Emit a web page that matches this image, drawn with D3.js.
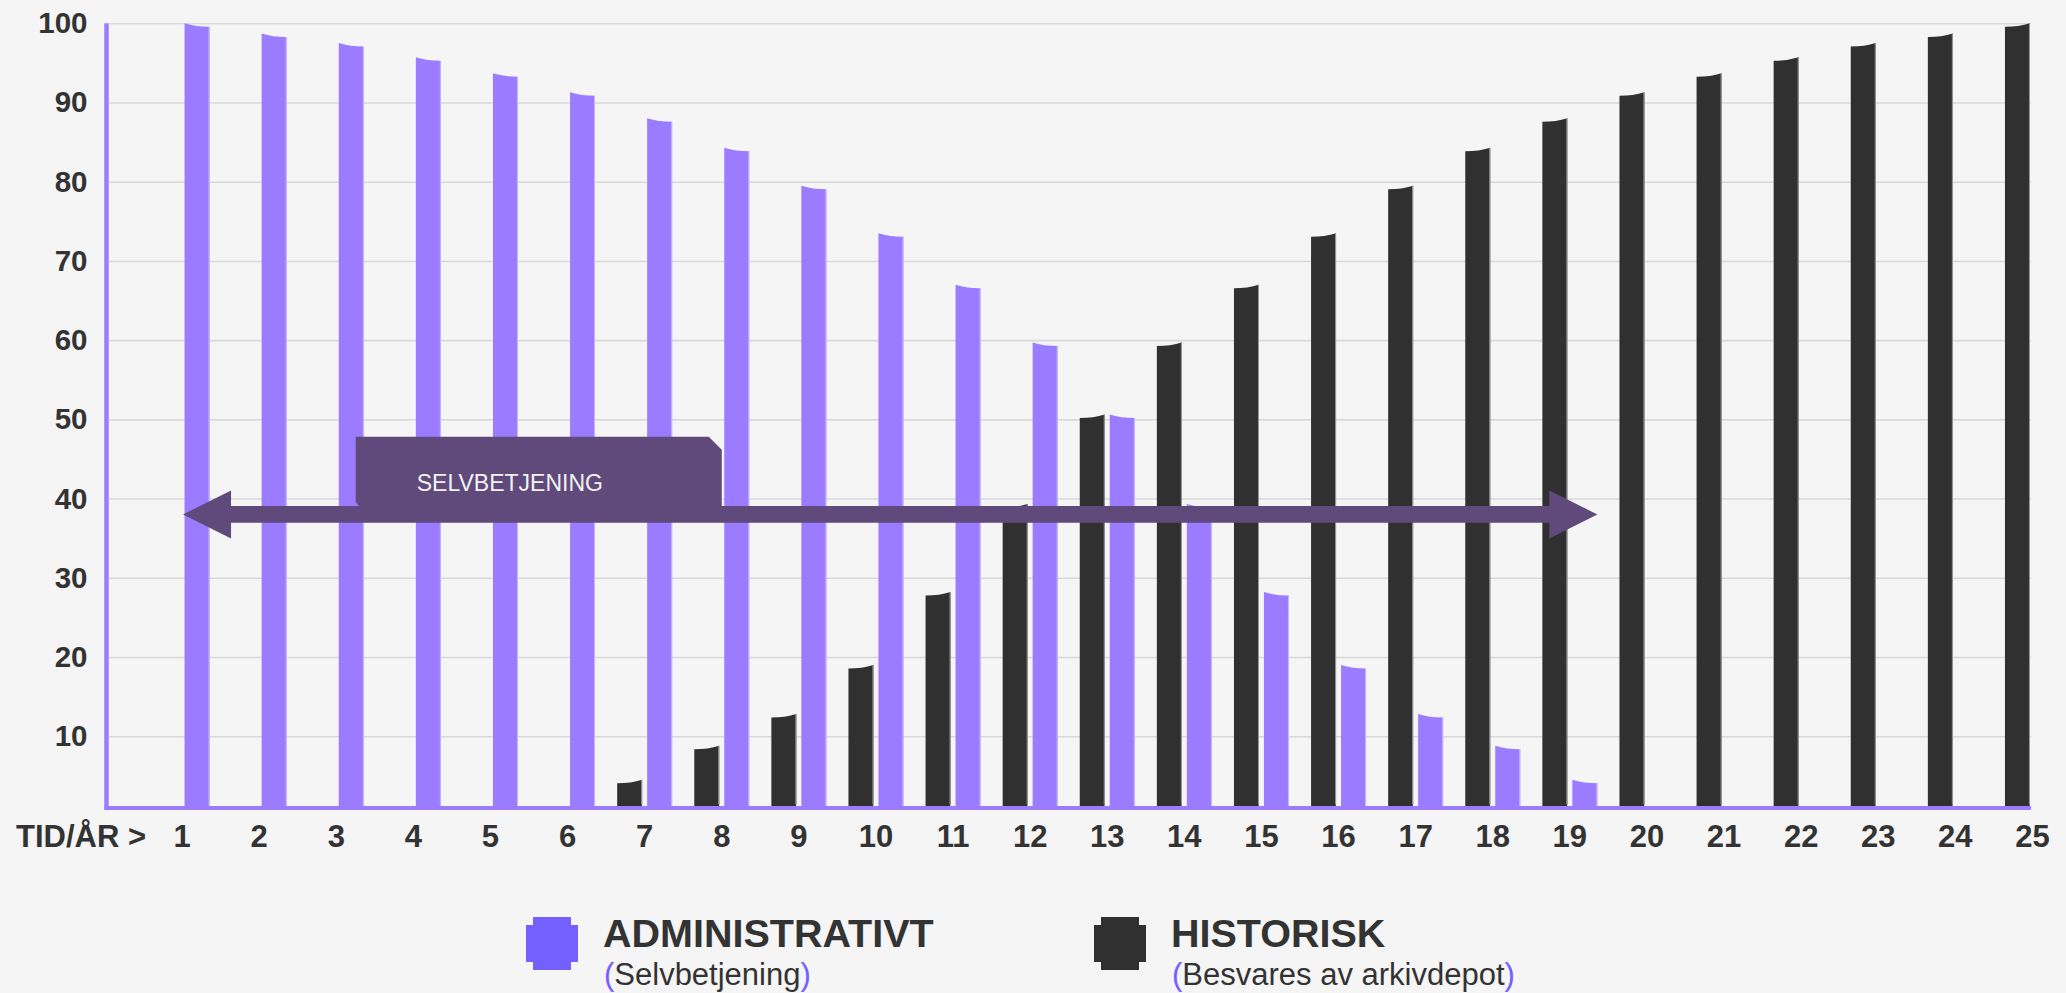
<!DOCTYPE html>
<html>
<head>
<meta charset="utf-8">
<script src="https://cdn.jsdelivr.net/npm/d3@7/dist/d3.min.js"></script>
<style>
  html, body { margin: 0; padding: 0; background: #f5f5f5; }
  svg { display: block; font-family: "Liberation Sans", Arial, sans-serif; }
</style>
</head>
<body>
<div id="chart"></div>
<script>
// --- Data ---
const years = ["1","2","3","4","5","6","7","8","9","10","11","12","13",
               "14","15","16","17","18","19","20","21","22","23","24","25"];
const adminValues = [100, 98.7, 97.5, 95.7, 93.7, 91.3, 88, 84.3, 79.5, 73.5, 67, 59.7, 50.6,
                     39.3, 28.2, 19, 12.8, 8.8, 4.5, 0, 0, 0, 0, 0, 0];
const histValues  = [0, 0, 0, 0, 0, 0, 4.5, 8.8, 12.8, 19, 28.2, 39.3, 50.6,
                     59.7, 67, 73.5, 79.5, 84.3, 88, 91.3, 93.7, 95.7, 97.5, 98.7, 100];
const yTicks = [10, 20, 30, 40, 50, 60, 70, 80, 90, 100];
const seriesKeys = ["hist", "admin"];
const arrowLevel = 38;
const arrowLabel = "SELVBETJENING";
const legendItems = [
    { key: "admin", title: "ADMINISTRATIVT", sub: "Selvbetjening" },
    { key: "hist",  title: "HISTORISK",      sub: "Besvares av arkivdepot" }
];

// --- Layout / colours ---
const width = 2066, height = 993;
const plotLeft = 106.5, plotRight = 2031, plotTop = 23.3, plotBottom = 807.5;
const barColor = { admin: "#9b7bff", hist: "#303030" };
const edgeColor = { admin: "#c8b8ff", hist: "#9c9c9c" };
const legendColor = { admin: "#7360ff", hist: "#303030" };
const arrowColor = "#5f4a7b";
const textColor = "#333333";

const svg = d3.select("#chart").append("svg")
    .attr("width", width)
    .attr("height", height);

svg.append("rect").attr("width", width).attr("height", height).attr("fill", "#f5f5f5");

const x0 = d3.scaleBand()
    .domain(years)
    .range([143.5, 2071])
    .paddingInner(0.287)
    .paddingOuter(0.1435);

const x1 = d3.scaleBand()
    .domain(seriesKeys)
    .range([0, x0.bandwidth()])
    .paddingInner(1 / 6);

const y = d3.scaleLinear()
    .domain([1, 100])
    .range([plotBottom, plotTop]);

// Gridlines
svg.append("g")
    .attr("transform", `translate(${plotLeft + 2.5},0)`)
    .call(d3.axisLeft(y).tickValues(yTicks).tickSize(-(plotRight - plotLeft - 2.5)).tickFormat(""))
    .call(g => g.select(".domain").remove())
    .call(g => g.selectAll("line").attr("stroke", "#d9d9d9").attr("stroke-width", 1.6));

// Y labels
svg.append("g")
    .attr("transform", `translate(${plotLeft},0)`)
    .call(d3.axisLeft(y).tickValues(yTicks).tickSize(0).tickPadding(19))
    .call(g => g.select(".domain").remove())
    .call(g => g.selectAll("text")
        .attr("fill", textColor)
        .attr("font-size", "29.5px")
        .attr("font-weight", "bold")
        .attr("font-family", "'Liberation Sans', Arial, sans-serif"));

// Bars with slanted tops
const slant = 3.5;
function barPath(x, w, v, key) {
    const yb = y(1), yt = y(v);
    if (key === "admin") {
        return `M${x},${yb} L${x},${yt} Q${x + w * 0.45},${yt + slant} ${x + w},${yt + slant} L${x + w},${yb} Z`;
    }
    return `M${x},${yb} L${x},${yt + slant} Q${x + w * 0.55},${yt + slant} ${x + w},${yt} L${x + w},${yb - 3} Q${x + w},${yb} ${x + w - 5},${yb} Z`;
}

const barData = [];
years.forEach((yr, i) => {
    barData.push({ year: yr, key: "hist", value: histValues[i] });
    barData.push({ year: yr, key: "admin", value: adminValues[i] });
});

const bars = svg.append("g").selectAll("g.bar")
    .data(barData.filter(d => d.value > 0))
    .enter().append("g").attr("class", "bar");

bars.append("path")
    .attr("d", d => barPath(x0(d.year) + x1(d.key), x1.bandwidth(), d.value, d.key))
    .attr("fill", d => barColor[d.key]);

bars.append("line")
    .attr("x1", d => x0(d.year) + x1(d.key) + x1.bandwidth() - 0.5)
    .attr("x2", d => x0(d.year) + x1(d.key) + x1.bandwidth() - 0.5)
    .attr("y1", d => y(d.value) + (d.key === "admin" ? slant : 0))
    .attr("y2", d => y(1) - (d.key === "hist" ? 3 : 0))
    .attr("stroke", d => edgeColor[d.key])
    .attr("stroke-width", 1);

// Axis lines
svg.append("line")
    .attr("x1", plotLeft - 2).attr("x2", plotRight)
    .attr("y1", y(1) + 0.5).attr("y2", y(1) + 0.5)
    .attr("stroke", "#9b7bff").attr("stroke-width", 4);

svg.append("line")
    .attr("x1", plotLeft).attr("x2", plotLeft)
    .attr("y1", y(100)).attr("y2", y(1) + 2.5)
    .attr("stroke", "#9b7bff").attr("stroke-width", 4.5);

// X labels
svg.append("g")
    .call(d3.axisBottom(x0).tickSize(0))
    .call(g => g.select(".domain").remove())
    .call(g => g.selectAll("text")
        .attr("y", 846.5)
        .attr("dy", null)
        .attr("fill", textColor)
        .attr("font-size", "31px")
        .attr("font-weight", "bold")
        .attr("font-family", "'Liberation Sans', Arial, sans-serif"));

svg.append("text")
    .attr("x", 16).attr("y", 846.5)
    .attr("fill", textColor)
    .attr("font-size", "31px")
    .attr("font-weight", "bold")
    .text("TID/ÅR >");

// Arrow annotation
const ax0 = x0(years[0]) + x1("admin") - 1.5;
const ax1 = x0(years[18]) + x1("admin") + x1.bandwidth();
const ay = y(arrowLevel);
const sh = 8.3, hh = 24, hl = 48;
const ann = svg.append("g");

const bx0 = x0(years[2]) + x1("admin") + 17;
const bx1 = x0(years[7]) + x0.bandwidth() / 2;
const by0 = y(47.8);
ann.append("path")
    .attr("d", `M${bx0},${by0} L${bx1 - 13},${by0} L${bx1},${by0 + 13} L${bx1},${ay - sh + 1} L${bx0 + 4},${ay - sh + 1} L${bx0},${ay - sh - 4} Z`)
    .attr("fill", arrowColor);

ann.append("path")
    .attr("d", `M${ax0},${ay} L${ax0 + hl},${ay - hh} L${ax0 + hl},${ay - sh} L${ax1 - hl},${ay - sh} L${ax1 - hl},${ay - hh} L${ax1},${ay} L${ax1 - hl},${ay + hh} L${ax1 - hl},${ay + sh} L${ax0 + hl},${ay + sh} L${ax0 + hl},${ay + hh} Z`)
    .attr("fill", arrowColor);

ann.append("text")
    .attr("x", bx0 + 61).attr("y", ay - 23)
    .attr("fill", "#f2f2f2")
    .attr("font-size", "23px")
    .text(arrowLabel);

// Legend
const legendX = [526, 1094];
const legend = svg.append("g").selectAll("g.legend")
    .data(legendItems)
    .enter().append("g").attr("class", "legend")
    .attr("transform", (d, i) => `translate(${legendX[i]},917)`);

legend.append("rect")
    .attr("x", 0).attr("y", 8).attr("width", 52).attr("height", 37)
    .attr("fill", d => legendColor[d.key]);
legend.append("rect")
    .attr("x", 7).attr("y", 0).attr("width", 38).attr("height", 53)
    .attr("fill", d => legendColor[d.key]);

legend.append("text")
    .attr("x", 77).attr("y", 29.5)
    .attr("fill", textColor)
    .attr("font-size", "39.5px")
    .attr("font-weight", "bold")
    .text(d => d.title);

const sub = legend.append("text")
    .attr("x", 78).attr("y", 67.5)
    .attr("fill", textColor)
    .attr("font-size", "31px");
sub.append("tspan").attr("fill", "#7360ff").text("(");
sub.append("tspan").text(d => d.sub);
sub.append("tspan").attr("fill", "#7360ff").text(")");
</script>
</body>
</html>
